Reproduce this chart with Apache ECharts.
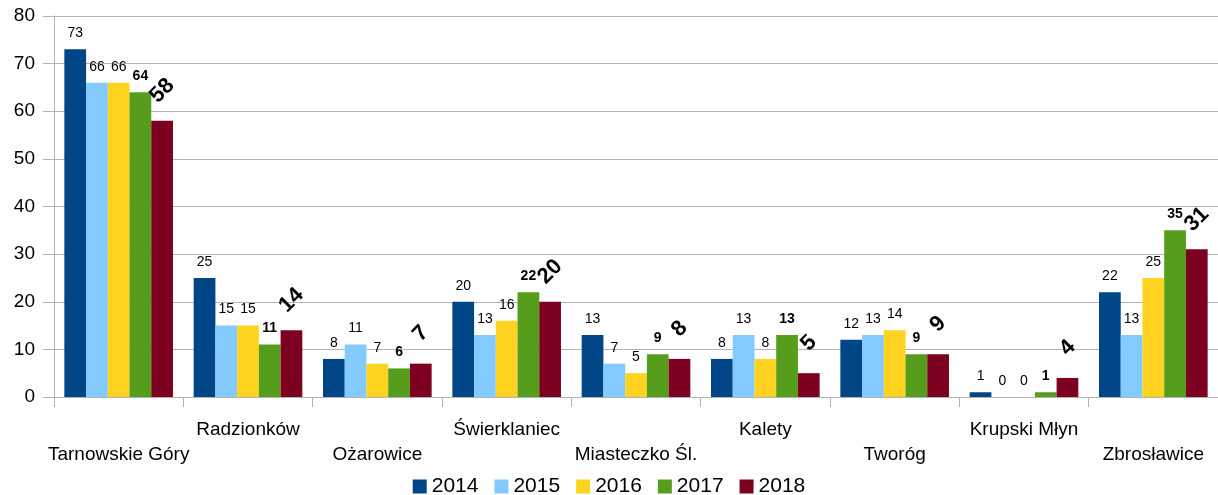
<!DOCTYPE html>
<html>
<head>
<meta charset="utf-8">
<script src="https://cdn.jsdelivr.net/npm/echarts@6/dist/echarts.min.js"></script>
<style>
  html, body { margin: 0; padding: 0; background: #fff; }
  #chart { width: 1218px; height: 495px; }
</style>
</head>
<body>
<div id="chart"></div>
<script>
const towns = ['Tarnowskie Góry', 'Radzionków', 'Ożarowice', 'Świerklaniec', 'Miasteczko Śl.',
  'Kalety', 'Tworóg', 'Krupski Młyn', 'Zbrosławice'];
const years = ['2014', '2015', '2016', '2017', '2018'];
const v2014 = [73, 25, 8, 20, 13, 8, 12, 1, 22];
const v2015 = [66, 15, 11, 13, 7, 13, 13, 0, 13];
const v2016 = [66, 15, 7, 16, 5, 8, 14, 0, 25];
const v2017 = [64, 11, 6, 22, 9, 13, 9, 1, 35];
const v2018 = [58, 14, 7, 20, 8, 5, 9, 4, 31];
const colors = ['#004586', '#83caff', '#ffd320', '#579d1c', '#7e0021'];

const font = 'Liberation Sans, Arial, sans-serif';
const values = [v2014, v2015, v2016, v2017, v2018];

// last year gets big rotated labels, 2017 bold ones
function labelFor(i) {
  if (i === 4) {
    return { show: true, position: 'top', distance: 30, rotate: 45, align: 'center', verticalAlign: 'middle',
      fontSize: 22, fontWeight: 'bold', color: '#000', fontFamily: font };
  }
  return { show: true, position: 'top', distance: 9, fontSize: 14,
    fontWeight: i === 3 ? 'bold' : 'normal', color: '#000', fontFamily: font };
}

const chart = echarts.init(document.getElementById('chart'));
chart.setOption({
  color: colors,
  animation: false,
  textStyle: { fontFamily: font },
  grid: { left: 54, right: 0, top: 16, bottom: 98, containLabel: false },
  legend: {
    top: 471,
    itemWidth: 14,
    itemHeight: 14,
    itemGap: 16,
    icon: 'rect',
    textStyle: { fontSize: 21, color: '#000', fontFamily: font },
    data: years
  },
  xAxis: {
    type: 'category',
    data: towns,
    axisLine: { lineStyle: { color: '#b3b3b3' } },
    axisTick: { show: true, alignWithLabel: false, length: 10, lineStyle: { color: '#b3b3b3' } },
    axisLabel: {
      interval: 0,
      fontSize: 19,
      color: '#000',
      lineHeight: 25,
      margin: 20,
      formatter: (name, idx) => idx % 2 === 0 ? '\n' + name : name
    }
  },
  yAxis: {
    type: 'value',
    min: 0,
    max: 80,
    interval: 10,
    axisLine: { show: true, lineStyle: { color: '#b3b3b3' } },
    axisTick: { show: true, length: 11, lineStyle: { color: '#b3b3b3' } },
    splitLine: { lineStyle: { color: '#b3b3b3' } },
    axisLabel: { fontSize: 19, color: '#000', margin: 19 }
  },
  series: years.map((y, i) => ({
    name: y,
    type: 'bar',
    data: values[i],
    barGap: 0,
    barCategoryGap: '16%',
    label: labelFor(i)
  }))
});
</script>
</body>
</html>
